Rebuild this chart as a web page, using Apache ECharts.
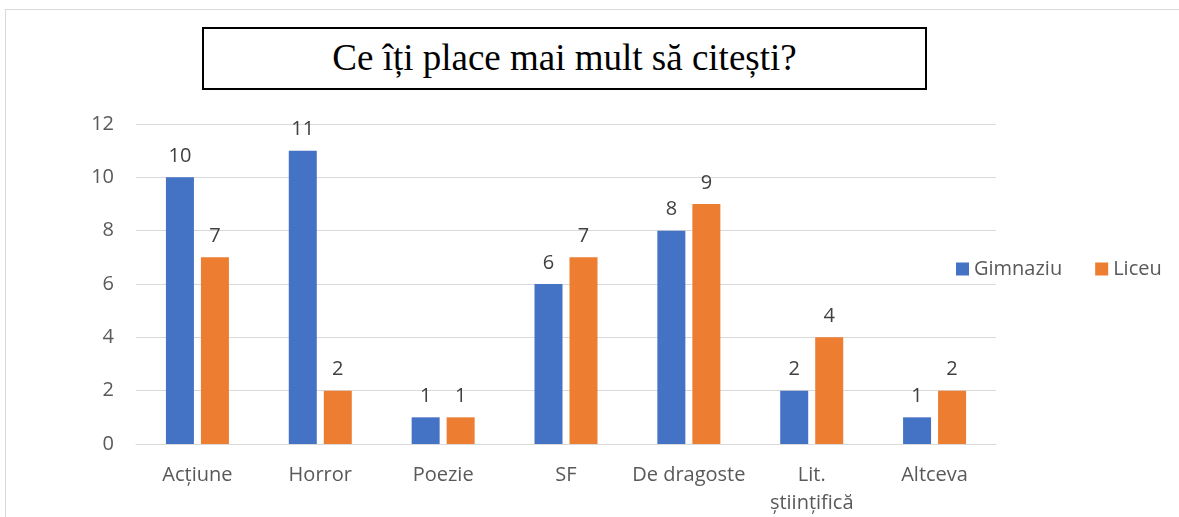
<!DOCTYPE html>
<html>
<head>
<meta charset="utf-8">
<script src="https://cdn.jsdelivr.net/npm/echarts@6/dist/echarts.min.js"></script>
<style>
  html, body { margin: 0; padding: 0; background: #fff; }
  .warp { position: relative; width: 1179px; height: 517px; overflow: hidden; }
  .frame {
    position: absolute; left: 5px; top: 9px; width: 1200px; height: 600px;
    border: 1px solid #d9d9d9; box-sizing: border-box;
  }
  .title {
    position: absolute; left: 202px; top: 27px; width: 725px; height: 63px;
    border: 2px solid #000; box-sizing: border-box; background: #fff;
    font-family: "Liberation Serif", "DejaVu Serif", serif; font-size: 37px;
    color: #000; text-align: center; line-height: 58px; z-index: 2;
  }
  #chart { position: absolute; left: 0; top: 0; width: 1179px; height: 517px; }
</style>
</head>
<body>
<div class="warp">
  <div class="frame"></div>
  <div id="chart"></div>
  <!-- titlu -->
  <div class="title">Ce îți place mai mult să citești?</div>
</div>
<script>
const categories = ['Acțiune', 'Horror', 'Poezie', 'SF', 'De dragoste', 'Lit.\nștiințifică', 'Altceva']
const gimnaziu = [10, 11, 1, 6, 8, 2, 1]
const liceu = [7, 2, 1, 7, 9, 4, 2]
const seriesNames = ['Gimnaziu', 'Liceu']

const myChart = echarts.init(document.getElementById('chart'))
const font = '"Open Sans", "Liberation Sans", sans-serif'

myChart.setOption({
  animation: false,
  color: ['#4472c4', '#ed7d31'],
  grid: {
    left: 136,
    right: 183,
    top: 124,
    bottom: 72
  },
  legend: {
    data: seriesNames,
    left: 951,
    top: 254,
    itemWidth: 13,
    itemHeight: 13,
    itemGap: 33,
    icon: 'rect',
    textStyle: { color: '#595959', fontSize: 20, fontFamily: font }
  },
  xAxis: {
    type: 'category',
    data: categories,
    axisLine: { lineStyle: { color: '#d9d9d9', width: 1 } },
    axisTick: { show: false },
    axisLabel: {
      color: '#595959',
      fontSize: 20,
      fontFamily: font,
      margin: 17,
      lineHeight: 28,
      interval: 0
    }
  },
  yAxis: {
    type: 'value',
    min: 0,
    max: 12,
    interval: 2,
    axisLine: { show: false },
    axisTick: { show: false },
    axisLabel: {
      color: '#595959',
      fontSize: 20,
      fontFamily: font,
      margin: 22
    },
    splitLine: { lineStyle: { color: '#d9d9d9', width: 1 } }
  },
  series: [{
    name: seriesNames[0],
    type: 'bar',
    data: gimnaziu,
    barWidth: 28,
    barGap: '25%',
    label: { show: true, position: 'top', color: '#404040', fontSize: 20, fontFamily: font, distance: 11 }
  }, {
    name: seriesNames[1],
    type: 'bar',
    data: liceu,
    barWidth: 28,
    label: { show: true, position: 'top', color: '#404040', fontSize: 20, fontFamily: font, distance: 11 }
  }]
})
</script>
</body>
</html>
